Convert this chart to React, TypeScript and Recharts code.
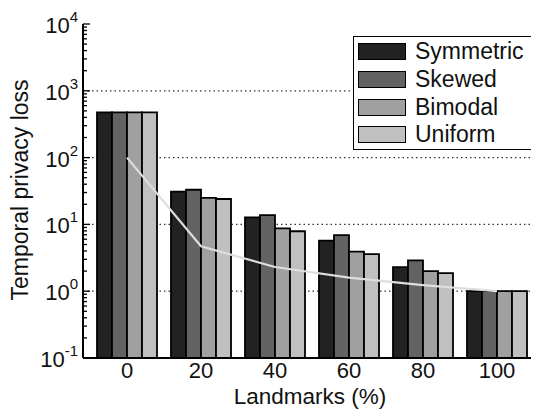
import React from 'react'
import { ComposedChart, Bar, Line, XAxis, YAxis, CartesianGrid, Legend, Label } from 'recharts'

const categories = ['0', '20', '40', '60', '80', '100']
const symmetric = [475, 31, 12.7, 5.7, 2.3, 1.0]
const skewed = [475, 33, 13.8, 6.9, 2.9, 1.0]
const bimodal = [475, 25, 8.7, 3.9, 2.0, 1.0]
const uniform = [475, 24, 7.9, 3.6, 1.86, 1.0]
const bound = [100, 4.7, 2.3, 1.6, 1.23, 1.0]

const majorTicks = [0.1, 1, 10, 100, 1000, 10000]
const gridValues = [1, 10, 100, 1000]

const series = [
   { key: 'symmetric', name: 'Symmetric', color: '#222222' },
   { key: 'skewed', name: 'Skewed', color: '#636363' },
   { key: 'bimodal', name: 'Bimodal', color: '#a0a0a0' },
   { key: 'uniform', name: 'Uniform', color: '#c0c0c0' },
]

const data = categories.map((x, i) => ({
   x,
   symmetric: symmetric[i],
   skewed: skewed[i],
   bimodal: bimodal[i],
   uniform: uniform[i],
   bound: bound[i],
}))

// log axis ticks: every decade plus 2..9 in between
const allTicks: number[] = []
majorTicks.forEach((t, i) => {
   allTicks.push(t)
   if (i < majorTicks.length - 1) {
      for (let m = 2; m <= 9; m++) allTicks.push(+(t * m).toPrecision(3))
   }
})

const FONT = '"Liberation Sans", Arial, sans-serif'

const isMajor = (v: number) => Math.abs(Math.log10(v) - Math.round(Math.log10(v))) < 1e-6

const LeftTick = (props: any) => {
   const { x, y, payload } = props
   const v = payload.value
   const major = isMajor(v)
   const exp = Math.round(Math.log10(v))
   return (
      <g>
         <line x1={x} x2={x + (major ? 7 : 4)} y1={y} y2={y} stroke='#000' strokeWidth={1.3} />
         {major && (
            <text x={x - 5} y={y + 9} textAnchor='end' fontSize={22} fill='#111' fontFamily={FONT}>
               10
               <tspan dy={-11} fontSize={15}>
                  {exp}
               </tspan>
            </text>
         )}
      </g>
   )
}

const RightTick = (props: any) => {
   const { x, y, payload } = props
   const major = isMajor(payload.value)
   return <line x1={x} x2={x - (major ? 7 : 4)} y1={y} y2={y} stroke='#000' strokeWidth={1.3} />
}

const BottomTick = (props: any) => {
   const { x, y, payload } = props
   return (
      <text x={x} y={y + 20} textAnchor='middle' fontSize={22} fill='#111' fontFamily={FONT}>
         {payload.value}
      </text>
   )
}

const TopTick = (props: any) => {
   const { x, y } = props
   return <line x1={x} x2={x} y1={y} y2={y + 6} stroke='#000' strokeWidth={1.3} />
}

const LegendBox = () => (
   <div
      style={{
         width: 181,
         height: 114,
         border: '1.5px solid #000',
         background: '#fff',
         fontFamily: FONT,
         fontSize: 23,
         color: '#111',
         boxSizing: 'border-box',
         padding: '1px 0 0 4px',
      }}
   >
      {series.map(s => (
         <div key={s.key} style={{ display: 'flex', alignItems: 'center', height: 27.7, whiteSpace: 'nowrap' }}>
            <div
               style={{
                  width: 48,
                  height: 17,
                  background: s.color,
                  border: '1.5px solid #000',
                  boxSizing: 'border-box',
                  marginRight: 9,
                  flexShrink: 0,
               }}
            />
            <span>{s.name}</span>
         </div>
      ))}
   </div>
)

export default function App() {
   return (
      <ComposedChart
         width={539}
         height={406}
         data={data}
         margin={{ top: 16, right: 6, left: 0, bottom: 0 }}
         barCategoryGap={7}
         barGap={0}
         style={{ fontFamily: FONT }}
      >
         <CartesianGrid
            horizontal
            vertical={false}
            horizontalValues={gridValues}
            stroke='#333'
            strokeDasharray='1.5 3'
            strokeWidth={1.3}
         />
         <XAxis
            dataKey='x'
            height={56}
            padding={{ left: 7, right: 7 }}
            axisLine={{ stroke: '#000', strokeWidth: 2 }}
            tickLine={false}
            tickSize={0}
            tickMargin={0}
            tick={<BottomTick />}
            interval={0}
         >
            <Label
               content={(p: any) => (
                  <text
                     x={302}
                     y={p.viewBox.y + 46}
                     textAnchor='middle'
                     fontSize={22.5}
                     fill='#111'
                     fontFamily={FONT}
                  >
                     Landmarks (%)
                  </text>
               )}
            />
         </XAxis>
         <XAxis
            xAxisId='top'
            dataKey='x'
            orientation='top'
            height={0}
            padding={{ left: 7, right: 7 }}
            axisLine={{ stroke: '#000', strokeWidth: 2 }}
            tickLine={false}
            tickSize={0}
            tickMargin={0}
            tick={<TopTick />}
            interval={0}
         />
         <YAxis
            scale='log'
            domain={[0.1, 10000]}
            ticks={allTicks}
            interval={0}
            allowDataOverflow
            width={75}
            axisLine={{ stroke: '#000', strokeWidth: 2 }}
            tickLine={false}
            tickSize={0}
            tickMargin={0}
            tick={<LeftTick />}
         >
            <Label
               content={() => {
                  const cx = 20
                  const cy = 182
                  return (
                     <text
                        x={cx}
                        y={cy}
                        transform={`rotate(-90, ${cx}, ${cy})`}
                        textAnchor='middle'
                        fontSize={23}
                        fill='#111'
                        fontFamily={FONT}
                     >
                        Temporal privacy loss
                     </text>
                  )
               }}
            />
         </YAxis>
         <YAxis
            yAxisId='right'
            orientation='right'
            scale='log'
            domain={[0.1, 10000]}
            ticks={allTicks}
            interval={0}
            allowDataOverflow
            width={0}
            axisLine={{ stroke: '#000', strokeWidth: 2 }}
            tickLine={false}
            tickSize={0}
            tickMargin={0}
            tick={<RightTick />}
         />
         {series.map(s => (
            <Bar
               key={s.key}
               dataKey={s.key}
               name={s.name}
               fill={s.color}
               stroke='#000'
               strokeWidth={1.8}
               isAnimationActive={false}
            />
         ))}
         <Line
            dataKey='bound'
            type='linear'
            stroke='#dedede'
            strokeWidth={2.2}
            dot={false}
            legendType='none'
            isAnimationActive={false}
         />
         <Legend
            layout='vertical'
            align='center'
            verticalAlign='middle'
            wrapperStyle={{ left: 345, top: 28, width: 181 }}
            content={() => <LegendBox />}
         />
      </ComposedChart>
   )
}
